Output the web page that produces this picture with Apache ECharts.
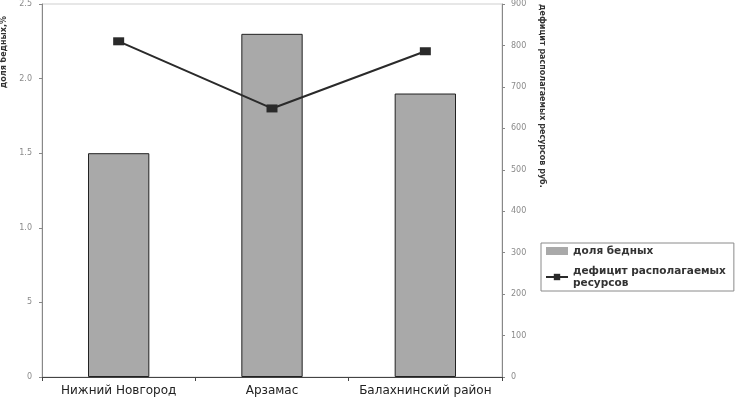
<!DOCTYPE html>
<html>
<head>
<meta charset="utf-8">
<script src="https://cdn.jsdelivr.net/npm/echarts@6/dist/echarts.min.js"></script>
<style>
  html, body { margin: 0; padding: 0; background: #fff; }
  #chart { width: 736px; height: 398px; }
</style>
</head>
<body>
<div id="chart"></div>
<script>
// Данные графика
const categories = ['Нижний Новгород', 'Арзамас', 'Балахнинский район'];
const dolyaBednyh = [1.5, 2.3, 1.9];
const deficit = [810, 648, 786];
const leftTickLabels = ['0', '5', '1.0', '1.5', '2.0', '2.5'];
const rightTickLabels = ['0', '100', '200', '300', '400', '500', '600', '700', '800', '900'];

const chart = echarts.init(document.getElementById('chart'));

const tickLabelStyle = {
    color: '#8a8a8a',
    fontSize: 8,
    fontFamily: 'DejaVu Sans'
};

chart.setOption({
    animation: false,
    grid: {
        left: 42, right: 234, top: 3, bottom: 21,
        show: true, borderColor: '#cfcfcf', borderWidth: 1
    },
    legend: {
        orient: 'vertical',
        left: 541,
        top: 243,
        padding: [2, 8, 2, 4],
        itemGap: 8,
        itemWidth: 22,
        itemHeight: 8,
        borderColor: '#8a8a8a',
        borderWidth: 1,
        textStyle: {
            fontFamily: 'DejaVu Sans',
            fontWeight: 'bold',
            fontSize: 10.5,
            color: '#333',
            lineHeight: 12
        },
        data: [
            { name: 'доля бедных', icon: 'rect', itemStyle: { borderWidth: 0 } },
            { name: 'дефицит располагаемых\nресурсов' }
        ]
    },
    xAxis: {
        type: 'category',
        data: categories,
        axisLine: { lineStyle: { color: '#444', width: 1 } },
        axisTick: { show: true, length: 4, lineStyle: { color: '#444' } },
        axisLabel: {
            interval: 0,
            color: '#222',
            fontSize: 12,
            fontFamily: 'DejaVu Sans',
            margin: 8
        },
        splitLine: { show: false }
    },
    yAxis: [
        {
            type: 'value',
            min: 0, max: 2.5, interval: 0.5,
            axisLine: { show: true, lineStyle: { color: '#888' } },
            axisTick: { show: true, length: 3, lineStyle: { color: '#888' } },
            axisLabel: Object.assign({
                margin: 10,
                formatter: (v, i) => leftTickLabels[i]
            }, tickLabelStyle),
            splitLine: { show: false }
        },
        {
            type: 'value',
            min: 0, max: 900, interval: 100,
            position: 'right',
            axisLine: { show: true, lineStyle: { color: '#888' } },
            axisTick: { show: true, length: 3, lineStyle: { color: '#888' } },
            axisLabel: Object.assign({
                margin: 9,
                formatter: (v, i) => rightTickLabels[i]
            }, tickLabelStyle),
            splitLine: { show: false }
        }
    ],
    graphic: [
        {
            type: 'text',
            left: 0,
            top: 16,
            rotation: Math.PI / 2,
            style: {
                text: 'доля бедных,%',
                fontFamily: 'DejaVu Sans',
                fontWeight: 'bold',
                fontSize: 8,
                fill: '#333'
            }
        },
        {
            type: 'text',
            left: 538,
            top: 4,
            rotation: -Math.PI / 2,
            style: {
                text: 'дефицит располагаемых ресурсов руб.',
                fontFamily: 'DejaVu Sans',
                fontWeight: 'bold',
                fontSize: 8,
                fill: '#333'
            }
        }
    ],
    series: [
        {
            name: 'доля бедных',
            type: 'bar',
            yAxisIndex: 0,
            data: dolyaBednyh,
            barWidth: '40%',
            itemStyle: { color: '#a9a9a9', borderColor: '#222', borderWidth: 1 }
        },
        {
            name: 'дефицит располагаемых\nресурсов',
            type: 'line',
            yAxisIndex: 1,
            data: deficit,
            symbol: 'rect',
            symbolSize: [11, 8],
            lineStyle: { color: '#2a2a2a', width: 2 },
            itemStyle: { color: '#2a2a2a' }
        }
    ]
});
</script>
</body>
</html>
